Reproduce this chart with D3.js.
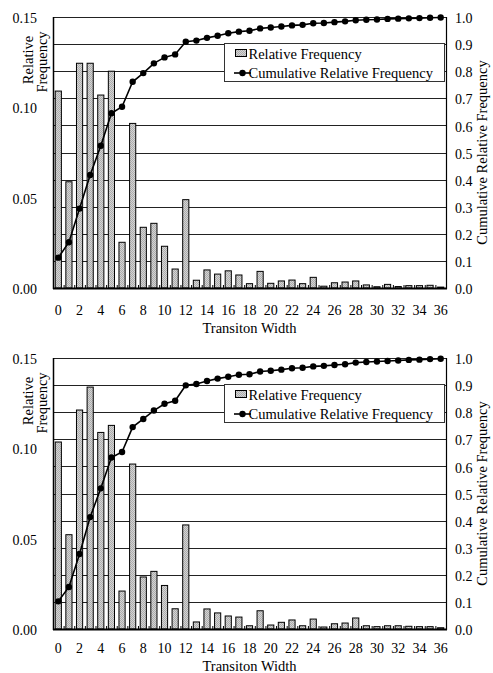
<!DOCTYPE html>
<html>
<head>
<meta charset="utf-8">
<script src="https://cdn.jsdelivr.net/npm/d3@7"></script>
<style>
html,body{margin:0;padding:0;background:#fff;}
svg{display:block;}
text{font-family:"Liberation Serif","Tinos","Times New Roman","DejaVu Serif",serif;fill:#000;}
</style>
</head>
<body>
<svg id="chart" width="493" height="673"></svg>
<script>
// ---- data ----
const categories = [0,1,2,3,4,5,6,7,8,9,10,11,12,13,14,15,16,17,18,19,20,21,22,23,24,25,26,27,28,29,30,31,32,33,34,35,36];
const xTickValues = [0,2,4,6,8,10,12,14,16,18,20,22,24,26,28,30,32,34,36];
const leftTicks = [0, 0.05, 0.10, 0.15];
const rightTicks = [0,0.1,0.2,0.3,0.4,0.5,0.6,0.7,0.8,0.9,1.0];
const gridTicks = [0.1,0.2,0.3,0.4,0.5,0.6,0.7,0.8,0.9,1.0];

const relFreqTop = [0.109,0.0588,0.1244,0.1244,0.1068,0.120,0.0253,0.0911,0.0336,0.0358,0.0231,0.0105,0.0489,0.0043,0.0100,0.0077,0.0095,0.0072,0.0024,0.0092,0.0026,0.0039,0.0044,0.0024,0.0059,0.0010,0.0029,0.0033,0.0039,0.0017,0.0007,0.0020,0.0008,0.0013,0.0013,0.0015,0.0005];
const cumFreqTop = [0.112,0.169,0.293,0.417,0.525,0.645,0.669,0.761,0.793,0.829,0.851,0.862,0.909,0.913,0.923,0.931,0.940,0.946,0.949,0.958,0.961,0.965,0.969,0.971,0.977,0.978,0.981,0.984,0.988,0.990,0.991,0.993,0.994,0.995,0.996,0.997,0.998];

const relFreqBottom = [0.1035,0.0522,0.1212,0.1339,0.1088,0.1127,0.0210,0.0913,0.0288,0.0319,0.0241,0.0112,0.0576,0.0039,0.0111,0.0089,0.0072,0.0066,0.0018,0.0101,0.0022,0.0037,0.0050,0.0018,0.0055,0.0011,0.0029,0.0033,0.0061,0.0018,0.0013,0.0018,0.0018,0.0015,0.0013,0.0013,0.0007];
const cumFreqBottom = [0.102,0.155,0.277,0.413,0.519,0.633,0.653,0.745,0.775,0.806,0.831,0.842,0.899,0.904,0.915,0.924,0.931,0.938,0.940,0.950,0.953,0.957,0.962,0.964,0.969,0.971,0.974,0.977,0.983,0.985,0.987,0.989,0.991,0.993,0.994,0.996,0.997];

const legendLabels = ["Relative Frequency", "Cumulative Relative Frequency"];
const xTitle = "Transiton Width";
const leftTitleLines = ["Relative", "Frequency"];
const rightTitle = "Cumulative Relative Frequency";

const FONT = '"Liberation Serif","Tinos","Times New Roman","DejaVu Serif",serif';

// ---- drawing ----
const svg = d3.select("#chart");
const defs = svg.append("defs");
const pat = defs.append("pattern").attr("id","barfill").attr("patternUnits","userSpaceOnUse")
  .attr("width",2).attr("height",2);
pat.append("rect").attr("width",2).attr("height",2).attr("fill","#d4d4d4");
pat.append("rect").attr("width",1).attr("height",1).attr("fill","#acacac");
pat.append("rect").attr("x",1).attr("y",1).attr("width",1).attr("height",1).attr("fill","#acacac");

const plotLeft = 53, plotRight = 446, plotH = 271;

function drawChart(top, rel, cum, tickPad, titleOffset) {
  const bottom = top + plotH;
  const g = svg.append("g").attr("font-family", FONT);
  const x = d3.scaleBand().domain(categories).range([plotLeft, plotRight])
    .paddingInner(0.42).paddingOuter(0.21);
  const step = x.step();
  const yL = d3.scaleLinear().domain([0, 0.15]).range([bottom, top]);
  const yR = d3.scaleLinear().domain([0, 1]).range([bottom, top]);

  // gridlines
  g.append("g").selectAll("line").data(gridTicks).join("line")
    .attr("x1", plotLeft).attr("x2", plotRight)
    .attr("y1", d => Math.round(yR(d)) + 0.5).attr("y2", d => Math.round(yR(d)) + 0.5)
    .attr("stroke", "#222").attr("stroke-width", 1);

  // bars
  g.append("g").selectAll("rect").data(rel).join("rect")
    .attr("x", (d, i) => x(categories[i]))
    .attr("y", d => yL(d))
    .attr("width", x.bandwidth())
    .attr("height", d => bottom - yL(d))
    .attr("fill", "url(#barfill)")
    .attr("stroke", "#000").attr("stroke-width", 1);

  // frame
  g.append("line").attr("x1", plotLeft + 0.5).attr("x2", plotLeft + 0.5).attr("y1", top).attr("y2", bottom + 1)
    .attr("stroke", "#000").attr("stroke-width", 1.5);
  g.append("line").attr("x1", plotRight + 0.5).attr("x2", plotRight + 0.5).attr("y1", top).attr("y2", bottom + 1)
    .attr("stroke", "#000").attr("stroke-width", 1.2);
  g.append("line").attr("x1", plotLeft).attr("x2", plotRight + 1).attr("y1", bottom + 0.5).attr("y2", bottom + 0.5)
    .attr("stroke", "#000").attr("stroke-width", 1.8);

  // small inner ticks between categories
  g.append("g").selectAll("line").data(categories.slice(0, -1)).join("line")
    .attr("x1", d => x(d) + x.bandwidth() / 2 + step / 2 + 0.5)
    .attr("x2", d => x(d) + x.bandwidth() / 2 + step / 2 + 0.5)
    .attr("y1", bottom).attr("y2", bottom - 3)
    .attr("stroke", "#000").attr("stroke-width", 1);

  // axes
  const axL = g.append("g").attr("transform", `translate(${plotLeft},0)`)
    .call(d3.axisLeft(yL).tickValues(leftTicks).tickFormat(d3.format(".2f")).tickSize(0).tickPadding(16));
  const axR = g.append("g").attr("transform", `translate(${plotRight},0)`)
    .call(d3.axisRight(yR).tickValues(rightTicks).tickFormat(d3.format(".1f")).tickSize(0).tickPadding(9));
  const axB = g.append("g").attr("transform", `translate(0,${bottom})`)
    .call(d3.axisBottom(x).tickValues(xTickValues).tickSize(0).tickPadding(tickPad));
  [axL, axR, axB].forEach(a => {
    a.attr("font-family", FONT).attr("font-size", 14);
    a.select(".domain").remove();
    a.selectAll("text").attr("fill", "#000");
  });
  axL.selectAll("text").attr("dy", "0.4em");
  axR.selectAll("text").attr("dy", "0.4em");

  // cumulative line
  const cx = i => x(categories[i]) + x.bandwidth() / 2;
  const line = d3.line().x((d, i) => cx(i)).y(d => yR(d));
  g.append("path").datum(cum).attr("d", line)
    .attr("fill", "none").attr("stroke", "#000").attr("stroke-width", 1.6);
  g.append("g").selectAll("circle").data(cum).join("circle")
    .attr("cx", (d, i) => cx(i)).attr("cy", d => yR(d)).attr("r", 3.2).attr("fill", "#000");

  // legend
  const lg = g.append("g").attr("font-size", 14.5);
  lg.append("rect").attr("x", 224.5).attr("y", top + 26.5).attr("width", 220).attr("height", 38)
    .attr("fill", "#fff").attr("stroke", "#333").attr("stroke-width", 1);
  lg.append("rect").attr("x", 235.5).attr("y", top + 32.5).attr("width", 11).attr("height", 7)
    .attr("fill", "url(#barfill)").attr("stroke", "#000").attr("stroke-width", 1);
  lg.append("text").attr("x", 248.5).attr("y", top + 42).text(legendLabels[0]);
  lg.append("line").attr("x1", 234).attr("x2", 251).attr("y1", top + 56).attr("y2", top + 56)
    .attr("stroke", "#000").attr("stroke-width", 1.6);
  lg.append("circle").attr("cx", 242.5).attr("cy", top + 56).attr("r", 3.2).attr("fill", "#000");
  lg.append("text").attr("x", 248.5).attr("y", top + 60.5).text(legendLabels[1]);

  // titles
  g.append("text").attr("x", (plotLeft + plotRight) / 2).attr("y", bottom + titleOffset)
    .attr("text-anchor", "middle").attr("font-size", 14.5).text(xTitle);
  g.append("text").attr("transform", `translate(33,${top + 43}) rotate(-90)`)
    .attr("text-anchor", "middle").attr("font-size", 14.5).text(leftTitleLines[0]);
  g.append("text").attr("transform", `translate(47,${top + 45}) rotate(-90)`)
    .attr("text-anchor", "middle").attr("font-size", 14.5).text(leftTitleLines[1]);
  g.append("text").attr("transform", `translate(487,${(top + bottom) / 2}) rotate(-90)`)
    .attr("text-anchor", "middle").attr("font-size", 14.5).text(rightTitle);
}

drawChart(17, relFreqTop, cumFreqTop, 17, 45);
drawChart(358, relFreqBottom, cumFreqBottom, 14, 42);
</script>
</body>
</html>
